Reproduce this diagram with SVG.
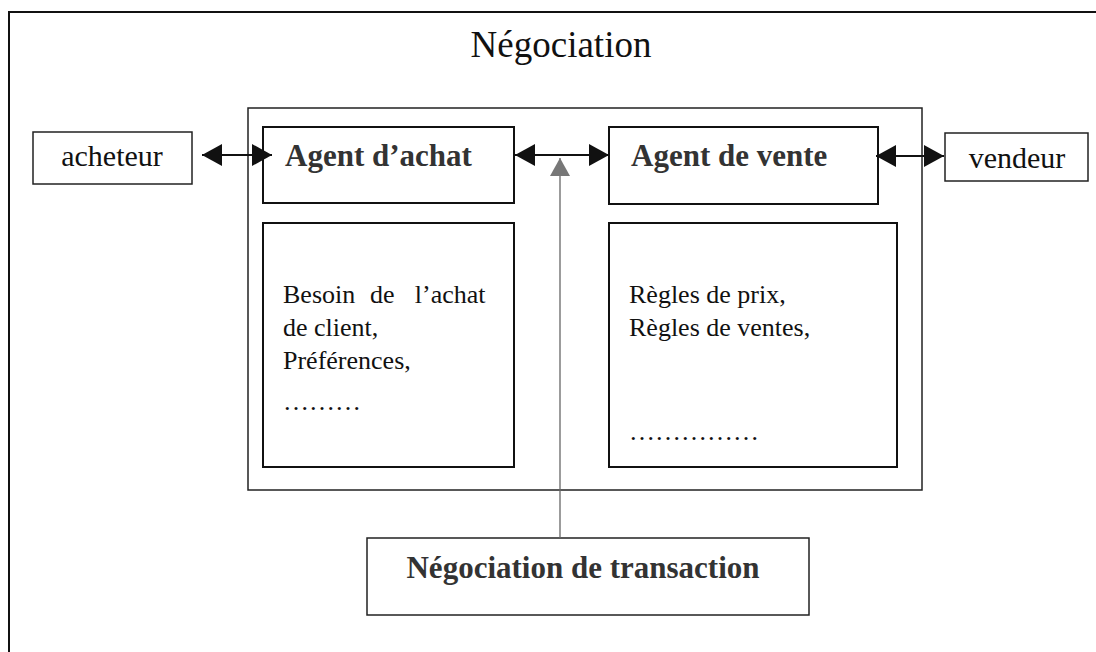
<svg xmlns="http://www.w3.org/2000/svg" width="1096" height="652" viewBox="0 0 1096 652">
<style>
  .box { fill: #fff; stroke: #111; stroke-width: 2; }
  .thin { fill: none; stroke: #222; stroke-width: 1.5; }
  .t { font-family: "Liberation Serif", "Times New Roman", serif; fill: #111; }
  .b { font-family: "Liberation Serif", "Times New Roman", serif; font-weight: bold; fill: #333; }
  .conn { stroke: #111; stroke-width: 2; fill: none; }
  .up { stroke: #666; stroke-width: 1.3; fill: none; }
</style>
<defs>
  <marker id="ah" viewBox="0 0 20 22" refX="20" refY="11" markerWidth="20" markerHeight="22" markerUnits="userSpaceOnUse" orient="auto-start-reverse">
    <path d="M0,0 L20,11 L0,22 z" fill="#111"/>
  </marker>
  <marker id="ahg" viewBox="0 0 18 20" refX="18" refY="10" markerWidth="18" markerHeight="20" markerUnits="userSpaceOnUse" orient="auto">
    <path d="M0,0 L18,10 L0,20 z" fill="#777"/>
  </marker>
</defs>
<rect width="1096" height="652" fill="#fff"/>
<g id="frame">
  <path d="M9,652 V12 H1096" fill="none" stroke="#111" stroke-width="2"/>
  <text class="t" x="561" y="57" font-size="37" text-anchor="middle">Négociation</text>
</g>
<g id="container">
  <rect class="thin" x="248" y="108" width="674" height="382"/>
</g>
<g id="acheteur">
  <rect class="thin" x="33" y="132" width="159" height="52"/>
  <text class="t" x="112" y="166" font-size="30" text-anchor="middle">acheteur</text>
</g>
<g id="vendeur">
  <rect class="thin" x="945" y="133" width="143" height="48"/>
  <text class="t" x="1017" y="168" font-size="30" text-anchor="middle">vendeur</text>
</g>
<g id="agent-achat">
  <rect class="box" x="263" y="127" width="251" height="76"/>
  <text class="b" x="285" y="166" font-size="31">Agent d’achat</text>
</g>
<g id="agent-vente">
  <rect class="box" x="609" y="127" width="269" height="77"/>
  <text class="b" x="631" y="166" font-size="31">Agent de vente</text>
</g>
<g id="besoins">
  <rect class="box" x="263" y="223" width="251" height="244"/>
  <text class="t" font-size="26">
    <tspan x="283" y="303">Besoin</tspan>
    <tspan x="370" y="303">de</tspan>
    <tspan x="492" y="303" text-anchor="end">l’achat</tspan>
    <tspan x="283" y="336">de client,</tspan>
    <tspan x="283" y="369">Préférences,</tspan>
    <tspan x="283" y="410">………</tspan>
  </text>
</g>
<g id="regles">
  <rect class="box" x="609" y="223" width="288" height="244"/>
  <text class="t" font-size="26">
    <tspan x="629" y="303">Règles de prix,</tspan>
    <tspan x="629" y="336">Règles de ventes,</tspan>
    <tspan x="629" y="440">……………</tspan>
  </text>
</g>
<g id="transaction">
  <rect class="thin" x="367" y="538" width="442" height="77"/>
  <text class="b" x="583" y="578" font-size="31" text-anchor="middle">Négociation de transaction</text>
</g>
<g id="connectors">
  <line class="conn" x1="202" y1="155" x2="272" y2="155" marker-start="url(#ah)" marker-end="url(#ah)"/>
  <line class="conn" x1="515" y1="155" x2="609" y2="155" marker-start="url(#ah)" marker-end="url(#ah)"/>
  <line class="conn" x1="876" y1="156" x2="944" y2="156" marker-start="url(#ah)" marker-end="url(#ah)"/>
  <line class="up" x1="560" y1="538" x2="560" y2="158" marker-end="url(#ahg)"/>
</g>
</svg>
